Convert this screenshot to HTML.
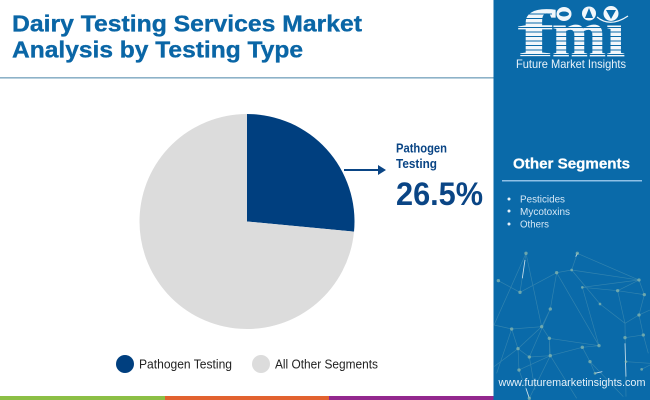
<!DOCTYPE html>
<html lang="en">
<head>
<meta charset="utf-8">
<title>Dairy Testing Services Market Analysis by Testing Type</title>
<style>
html,body{margin:0;padding:0;background:#fff}
svg{display:block;font-family:"Liberation Sans",sans-serif}
</style>
</head>
<body>
<svg id="root" width="650" height="400" viewBox="0 0 650 400" xmlns="http://www.w3.org/2000/svg">
  <rect width="650" height="400" fill="#ffffff"/>

  <text x="12" y="31.500" font-size="23.500" font-weight="700" fill="#0a66a6" stroke="#0a66a6" stroke-width="0.35" textLength="350" lengthAdjust="spacingAndGlyphs">Dairy Testing Services Market</text>
  <text x="12" y="57.500" font-size="23.500" font-weight="700" fill="#0a66a6" stroke="#0a66a6" stroke-width="0.35" textLength="291" lengthAdjust="spacingAndGlyphs">Analysis by Testing Type</text>
  <rect x="0" y="77" width="494" height="1.6" fill="#8db2c8"/>

  <g id="pie"></g>

  <g>
    <line x1="344" y1="170" x2="380" y2="170" stroke="#0a4585" stroke-width="2"/>
    <polygon points="386,170 378,165 378,175" fill="#0a4585"/>
    <text x="396" y="152.500" font-size="12.5" font-weight="700" fill="#0a4585" textLength="51" lengthAdjust="spacingAndGlyphs">Pathogen</text>
    <text x="396" y="168" font-size="12.5" font-weight="700" fill="#0a4585" textLength="41" lengthAdjust="spacingAndGlyphs">Testing</text>
    <text id="callout-value" x="396" y="205" font-size="32" font-weight="700" fill="#0a4585" textLength="87" lengthAdjust="spacingAndGlyphs"></text>
  </g>

  <g id="legend"></g>

  <g>
    <rect x="0" y="396" width="165" height="4" fill="#8cbf45"/>
    <rect x="165" y="396" width="164" height="4" fill="#e2622f"/>
    <rect x="329" y="396" width="165" height="4" fill="#93288e"/>
  </g>

  <rect x="493.5" y="0" width="156.5" height="400" fill="#0a6aa9"/>

  <g transform="translate(490 230) scale(0.3333)">
    <path fill="none" stroke="#6fa9b8" stroke-opacity="0.4" stroke-width="2"
      d="M108 70L90 187L25 152M108 70L155 290L65 297L12 285M108 70L12 285M90 187L200 128L245 120L447 150L262 70L245 120M200 128L181 237L155 290L84 356L65 297M200 128L327 347L178 325L155 290M245 120L330 222L405 280L383 182L447 150L277 172L383 182L463 194L447 255L405 280L408 500M277 172L327 347M181 237L118 381L84 356L87 420L118 505M178 325L181 377L277 352L327 347M178 325L178 377M84 356L118 381L181 377L87 420M181 377L118 505M277 352L300 395L400 500M300 395L315 430L335 425M405 323L460 315L447 255L480 240M460 315L475 370M408 395L480 400M455 418L480 405M181 377L260 505M12 410L84 356M463 194L447 150M65 297L20 430M118 381L135 480"/>
    <path fill="none" stroke="#ffffff" stroke-opacity="0.75" stroke-width="2.500" d="M105 90L97 145M262 70L257 80M315 430L337 425M108 475L118 505M405 340L408 440"/>
    <g fill="#8fbcae" fill-opacity="0.7">
      <circle cx="108" cy="70" r="5"/><circle cx="262" cy="70" r="5"/><circle cx="200" cy="128" r="5"/><circle cx="245" cy="120" r="4"/>
      <circle cx="447" cy="150" r="5"/><circle cx="25" cy="152" r="5"/><circle cx="90" cy="187" r="5"/><circle cx="277" cy="172" r="4"/>
      <circle cx="383" cy="182" r="5"/><circle cx="463" cy="194" r="5"/><circle cx="330" cy="222" r="4"/><circle cx="181" cy="237" r="5"/>
      <circle cx="447" cy="255" r="5"/><circle cx="65" cy="297" r="5"/><circle cx="155" cy="290" r="5"/><circle cx="178" cy="325" r="5"/>
      <circle cx="460" cy="315" r="5"/><circle cx="405" cy="323" r="5"/><circle cx="327" cy="347" r="5"/><circle cx="277" cy="352" r="5"/>
      <circle cx="84" cy="356" r="5"/><circle cx="118" cy="381" r="5"/><circle cx="181" cy="377" r="5"/><circle cx="300" cy="395" r="5"/>
      <circle cx="408" cy="395" r="4"/><circle cx="87" cy="420" r="5"/><circle cx="455" cy="418" r="4"/><circle cx="315" cy="430" r="4"/><circle cx="118" cy="505" r="5"/>
    </g>
  </g>

  <g>
    <g font-family="'Liberation Serif',serif" font-size="66" font-weight="700" fill="#f2f7fb" stroke="#f2f7fb" stroke-width="0.700">
      <text x="518" y="56" textLength="36" lengthAdjust="spacingAndGlyphs">f</text>
      <text x="552" y="56" textLength="54" lengthAdjust="spacingAndGlyphs">m</text>
      <text x="606" y="56" textLength="19" lengthAdjust="spacingAndGlyphs">ı</text>
    </g>
    <path fill="none" stroke="#0a6aa9" stroke-width="1.100" d="M514 14H552M514 18.500H552M514 23H630M514 27.500H630M514 32H630M514 36.500H630M514 41H630M514 45.500H630M514 50H630M514 54.500H630"/>
    <ellipse cx="564" cy="14" rx="7.500" ry="7" fill="#f2f7fb"/>
    <ellipse cx="564" cy="14" rx="5" ry="2.500" fill="#0a6aa9"/>
    <circle cx="589" cy="13.500" r="7" fill="#f2f7fb"/>
    <path d="M589 8L593 18H585Z" fill="#0a6aa9"/>
    <circle cx="611" cy="13.500" r="7.500" fill="#f2f7fb"/>
    <path d="M606 10L616 10L611 19Z" fill="#0a6aa9"/>
    <path d="M597 17Q610 28 628 16" fill="none" stroke="#f2f7fb" stroke-width="1.200"/>
    <text x="516" y="68" font-size="12" fill="#eaf3fa" textLength="110" lengthAdjust="spacingAndGlyphs">Future Market Insights</text>
  </g>

  <g>
    <text x="513" y="168.500" font-size="15" font-weight="700" fill="#ffffff" stroke="#ffffff" stroke-width="0.25" textLength="117" lengthAdjust="spacingAndGlyphs">Other Segments</text>
    <rect x="502" y="180" width="140" height="1.500" fill="#8fc0e6"/>
    <circle cx="509" cy="199" r="1.500" fill="#e6f1f9"/>
    <text x="520" y="202.500" font-size="10" fill="#d6e8f6" textLength="45" lengthAdjust="spacingAndGlyphs">Pesticides</text>
    <circle cx="509" cy="211" r="1.500" fill="#e6f1f9"/>
    <text x="520" y="215" font-size="10" fill="#d6e8f6" textLength="50" lengthAdjust="spacingAndGlyphs">Mycotoxins</text>
    <circle cx="509" cy="224" r="1.500" fill="#e6f1f9"/>
    <text x="520" y="227.500" font-size="10" fill="#d6e8f6" textLength="29" lengthAdjust="spacingAndGlyphs">Others</text>
  </g>

  <text x="498.500" y="386" font-size="11" fill="#e6f1f9" textLength="147" lengthAdjust="spacingAndGlyphs">www.futuremarketinsights.com</text>
</svg>

<script>
var categories = ["Pathogen Testing", "All Other Segments"];
var shareValues = [26.5, 73.5];
var calloutValues = [26.5];

var sliceColors = ["#003f7f", "#dcdcdc"];
var legendLayout = { firstX: 125, gap: 136, y: 364, r: 9, textOffset: 14, textWidths: [93, 103] };
var pieLayout = { cx: 247, cy: 221.5, r: 107.5 };
var NS = "http://www.w3.org/2000/svg";

function shareToAngle(cumulative, total) {
  return (cumulative / total) * 2 * Math.PI - Math.PI / 2;
}
function pointX(angle) {
  return pieLayout.cx + pieLayout.r * Math.cos(angle);
}
function pointY(angle) {
  return pieLayout.cy + pieLayout.r * Math.sin(angle);
}

var total = shareValues.reduce(function (a, b) { return a + b; }, 0);
var pieGroup = document.getElementById("pie");
var running = 0;
shareValues.forEach(function (value, i) {
  var a0 = shareToAngle(running, total);
  running += value;
  var a1 = shareToAngle(running, total);
  var large = (a1 - a0) > Math.PI ? 1 : 0;
  var slice = document.createElementNS(NS, "path");
  slice.setAttribute("d", "M" + pieLayout.cx + " " + pieLayout.cy +
    "L" + pointX(a0) + " " + pointY(a0) +
    "A" + pieLayout.r + " " + pieLayout.r + " 0 " + large + " 1 " + pointX(a1) + " " + pointY(a1) + "Z");
  slice.setAttribute("fill", sliceColors[i]);
  
  
  pieGroup.appendChild(slice);
});

document.getElementById("callout-value").textContent = calloutValues[0].toFixed(1) + "%";

var legendGroup = document.getElementById("legend");
categories.forEach(function (name, i) {
  var x = legendLayout.firstX + i * legendLayout.gap;
  var swatch = document.createElementNS(NS, "circle");
  swatch.setAttribute("cx", x);
  swatch.setAttribute("cy", legendLayout.y);
  swatch.setAttribute("r", legendLayout.r);
  swatch.setAttribute("fill", sliceColors[i]);
  
  
  legendGroup.appendChild(swatch);
  var label = document.createElementNS(NS, "text");
  label.setAttribute("x", x + legendLayout.textOffset);
  label.setAttribute("y", legendLayout.y + 4.5);
  label.setAttribute("font-size", "13");
  label.setAttribute("fill", "#222222");
  label.setAttribute("textLength", legendLayout.textWidths[i]);
  label.setAttribute("lengthAdjust", "spacingAndGlyphs");
  
  
  label.textContent = name;
  legendGroup.appendChild(label);
});
</script>
</body>
</html>
